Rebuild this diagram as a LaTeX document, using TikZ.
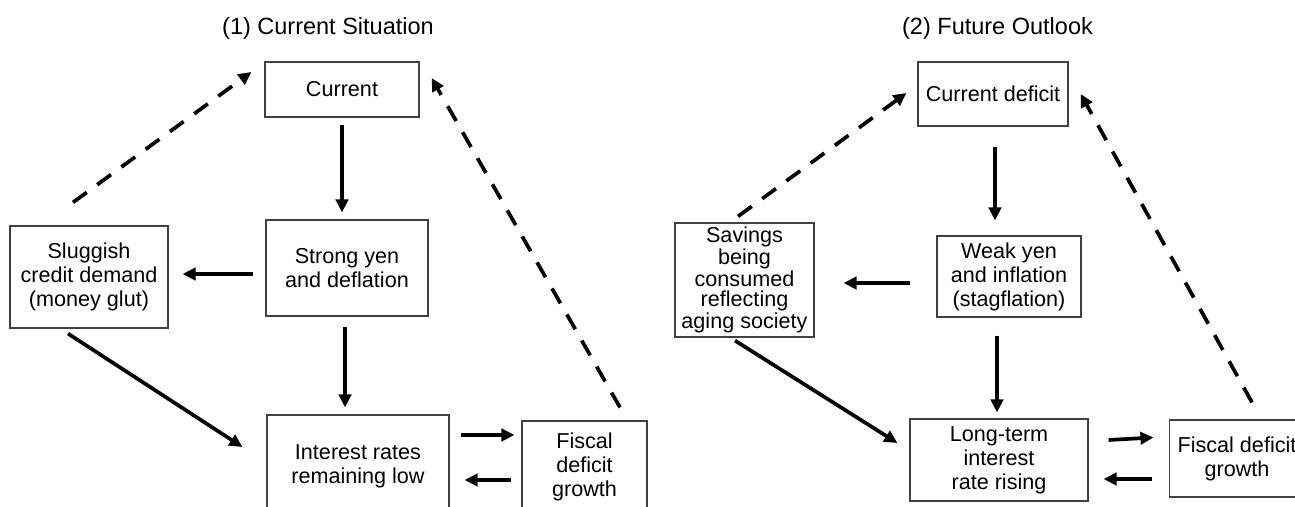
\documentclass[tikz,border=0pt]{standalone}
\usepackage{fontspec}
\setmainfont{Liberation Sans}
\usetikzlibrary{arrows.meta,calc}
\tikzset{
  box/.style={draw=black!75, line width=0.6pt, align=center, inner sep=0pt,
    font=\fontsize{10.8}{12}\selectfont},
  ttl/.style={anchor=base, inner sep=0pt, font=\fontsize{11.75}{14}\selectfont},
  arr/.style={line width=1.85pt, -{Triangle[length=6.5pt,width=6.2pt]}},
  darr/.style={arr, dash pattern=on 8.5pt off 6.5pt},
}
\begin{document}
\begin{tikzpicture}[x=0.5pt,y=-0.5pt]
\useasboundingbox (0,0) rectangle (1295,507);
\clip (0,0) rectangle (1295,507);
% titles
\node[ttl] (t1) at (328,35) {(1) Current Situation};
\node[ttl] (t2) at (997.5,35) {(2) Future Outlook};
% left panel
\node[box, minimum width=77pt, minimum height=27.5pt] (cur) at (342,89.5) {Current};
\node[box, minimum width=81pt, minimum height=48pt] (strong) at (347,268) {Strong yen\\and deflation};
\node[box, minimum width=79pt, minimum height=51pt] (slug) at (89,277) {Sluggish\\credit demand\\(money glut)};
\node[box, minimum width=91pt, minimum height=51pt] (inter) at (358,466) {Interest rates\\remaining low};
\node[box, minimum width=62.5pt, minimum height=46pt] (fisc) at (584.5,467) {Fiscal\\deficit\\growth};
% right panel
\node[box, minimum width=75pt, minimum height=32pt] (curd) at (993,94) {Current deficit};
\node[box, minimum width=72pt, minimum height=40.5pt] (weak) at (1009,276.5) {Weak yen\\and inflation\\(stagflation)};
\node[box, minimum width=69.5pt, minimum height=57pt, font=\fontsize{10.8}{10}\selectfont] (sav) at (744.5,280) {Savings\\being\\consumed\\reflecting\\aging society};
\node[box, minimum width=89pt, minimum height=41pt] (long) at (999,460) {Long-term\\interest\\rate rising};
\node[box, minimum width=67.5pt, minimum height=38.5pt] (fiscr) at (1237,458.5) {Fiscal deficit\\growth};
% left connectors
\draw[arr] ($(cur.south)+(0,7)$) -- ($(strong.north -| cur.south)+(0,-7)$);
\draw[arr] ($(strong.west)+(-12,6)$) -- ($(slug.east)+(14,-3)$);
\draw[arr] ($(strong.south)+(-2,10)$) -- ($(inter.north)+(-13,-7)$);
\draw[arr] ($(slug.south)+(-21,5)$) -- ($(inter.west)+(-24,-19)$);
\draw[arr] ($(inter.east)+(11,-31)$) -- ($(fisc.west)+(-7,-32)$);
\draw[arr] ($(fisc.west)+(-10,13)$) -- ($(inter.east)+(15,14)$);
\draw[darr] ($(fisc.north)+(35.5,-13)$) -- ($(cur.east)+(12,-11.5)$);
\draw[darr] ($(slug.north)+(-16,-23)$) -- ($(cur.west)+(-13,-17.5)$);
% right connectors
\draw[arr] ($(curd.south)+(2,20)$) -- ($(weak.north)+(-14,-15)$);
\draw[arr] ($(weak.west)+(-26,6.5)$) -- ($(sav.east)+(29,3)$);
\draw[arr] ($(weak.south)+(-12,18)$) -- ($(long.north)+(-2,-6)$);
\draw[arr] ($(sav.south)+(-9.5,3)$) -- ($(long.west)+(-12,-17)$);
\draw[arr] ($(long.east)+(20,-20)$) -- ($(fiscr.west)+(-15.5,-21)$);
\draw[arr] ($(fiscr.west)+(-17,20.5)$) -- ($(long.east)+(15,19)$);
\draw[darr] ($(fiscr.north)+(15,-17)$) -- ($(curd.east)+(12,0)$);
\draw[darr] ($(sav.north)+(-6.5,-6)$) -- ($(curd.west)+(-11,-1)$);
\end{tikzpicture}
\end{document}
